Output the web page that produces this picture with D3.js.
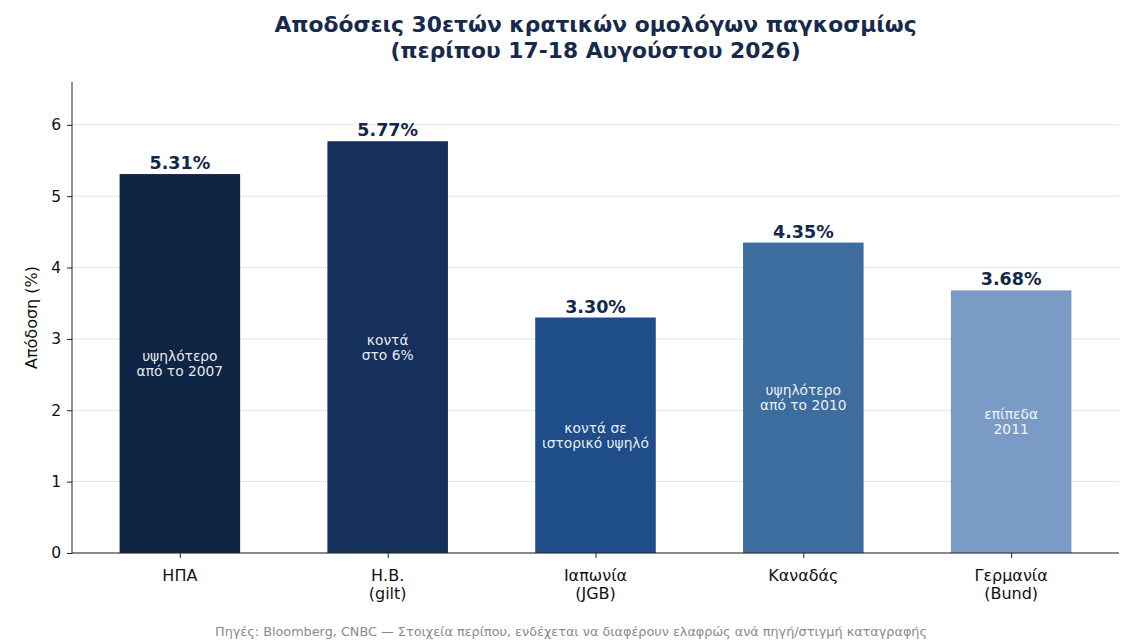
<!DOCTYPE html>
<head>
  <meta charset="utf-8">
  <style>
    body { margin: 0; background: #fff; }
    svg text { font-family: "DejaVu Sans", sans-serif; }
    .axis path, .axis line { stroke: #222; }
    .axis text { font-size: 15.5px; fill: #111; }
    .grid line { stroke: #e3e3e3; }
  </style>
  <script src="https://d3js.org/d3.v7.min.js" charset="utf-8"></script>
</head>
<body>
  <script>
    // data
    var countries = ["ΗΠΑ", "Η.Β.\n(gilt)", "Ιαπωνία\n(JGB)", "Καναδάς", "Γερμανία\n(Bund)"];
    var yields = [5.31, 5.77, 3.30, 4.35, 3.68];
    var notes = ["υψηλότερο\nαπό το 2007", "κοντά\nστο 6%", "κοντά σε\nιστορικό υψηλό", "υψηλότερο\nαπό το 2010", "επίπεδα\n2011"];
    var colors = ["#0e2544", "#15305b", "#1f4d89", "#3d6d9e", "#7a9bc6"];
    var yTicks = [0, 1, 2, 3, 4, 5, 6];

    var w = 1130, h = 640;
    var margin = {top: 82, right: 11, bottom: 87, left: 72};
    var iw = w - margin.left - margin.right;
    var ih = h - margin.top - margin.bottom;
    var barW = 0.58;
    var pad = 0.05 * (countries.length - 1 + barW);

    var xScale = d3.scaleLinear()
      .domain([-barW / 2 - pad, countries.length - 1 + barW / 2 + pad])
      .range([0, iw]);
    var yScale = d3.scaleLinear()
      .domain([0, 6.6])
      .range([ih, 0]);

    var svg = d3.select("body").append("svg")
      .attr("width", w)
      .attr("height", h);

    // title
    var title = svg.append("text")
      .attr("text-anchor", "middle")
      .attr("font-size", "21.8px")
      .attr("font-weight", "bold")
      .attr("fill", "#182a4b");
    title.append("tspan").attr("x", margin.left + iw / 2).attr("y", 32)
      .text("Αποδόσεις 30ετών κρατικών ομολόγων παγκοσμίως");
    title.append("tspan").attr("x", margin.left + iw / 2).attr("y", 58)
      .text("(περίπου 17-18 Αυγούστου 2026)");

    var g = svg.append("g")
      .attr("transform", "translate(" + margin.left + "," + margin.top + ")");

    // grid
    g.append("g").attr("class", "grid")
      .selectAll("line")
      .data(yTicks)
      .enter()
      .append("line")
      .attr("x1", 0)
      .attr("x2", iw)
      .attr("y1", function(d) { return yScale(d); })
      .attr("y2", function(d) { return yScale(d); });

    // bars
    g.selectAll("rect")
      .data(yields)
      .enter()
      .append("rect")
      .attr("x", function(d, i) { return xScale(i - barW / 2); })
      .attr("y", function(d) { return yScale(d); })
      .attr("width", xScale(barW) - xScale(0))
      .attr("height", function(d) { return ih - yScale(d); })
      .attr("fill", function(d, i) { return colors[i]; });

    // value labels
    g.selectAll("text.val")
      .data(yields)
      .enter()
      .append("text")
      .attr("class", "val")
      .attr("text-anchor", "middle")
      .attr("x", function(d, i) { return xScale(i); })
      .attr("y", function(d) { return yScale(d) - 5; })
      .attr("font-size", "17.5px")
      .attr("font-weight", "bold")
      .attr("fill", "#13274a")
      .text(function(d) { return d.toFixed(2) + "%"; });

    // notes inside bars
    g.selectAll("text.note")
      .data(notes)
      .enter()
      .append("text")
      .attr("class", "note")
      .attr("text-anchor", "middle")
      .attr("font-size", "13.8px")
      .attr("fill", "#fff")
      .attr("fill-opacity", 0.92)
      .each(function(d, i) {
        var lines = d.split("\n");
        var cy = yScale(yields[i] / 2);
        var t = d3.select(this);
        lines.forEach(function(l, k) {
          t.append("tspan")
            .attr("x", xScale(i))
            .attr("y", cy + (k - (lines.length - 1) / 2) * 15 + 5)
            .text(l);
        });
      });

    // axes
    var yAxis = d3.axisLeft(yScale).tickValues(yTicks).tickFormat(d3.format("d")).tickSize(5).tickPadding(6);
    g.append("g").attr("class", "axis").call(yAxis)
      .call(function(s) { s.select(".domain").attr("d", "M0," + ih + "V0"); });

    var xAxis = d3.axisBottom(xScale).tickValues(d3.range(countries.length)).tickSize(5).tickFormat("");
    g.append("g").attr("class", "axis")
      .attr("transform", "translate(0," + ih + ")")
      .call(xAxis)
      .call(function(s) { s.select(".domain").attr("d", "M0,0H" + iw); });

    g.selectAll("text.xlab")
      .data(countries)
      .enter()
      .append("text")
      .attr("class", "xlab")
      .attr("text-anchor", "middle")
      .attr("font-size", "16px")
      .attr("fill", "#111")
      .each(function(d, i) {
        var t = d3.select(this);
        d.split("\n").forEach(function(l, k) {
          t.append("tspan")
            .attr("x", xScale(i))
            .attr("y", ih + 28 + k * 18)
            .text(l);
        });
      });

    // y label
    g.append("text")
      .attr("transform", "translate(" + (-35) + "," + (ih / 2) + ") rotate(-90)")
      .attr("text-anchor", "middle")
      .attr("font-size", "16px")
      .attr("fill", "#111")
      .text("Απόδοση (%)");

    // footer
    svg.append("text")
      .attr("x", 571)
      .attr("y", 636)
      .attr("text-anchor", "middle")
      .attr("font-size", "12.8px")
      .attr("fill", "#8a8a8a")
      .text("Πηγές: Bloomberg, CNBC — Στοιχεία περίπου, ενδέχεται να διαφέρουν ελαφρώς ανά πηγή/στιγμή καταγραφής");
  </script>
</body>
